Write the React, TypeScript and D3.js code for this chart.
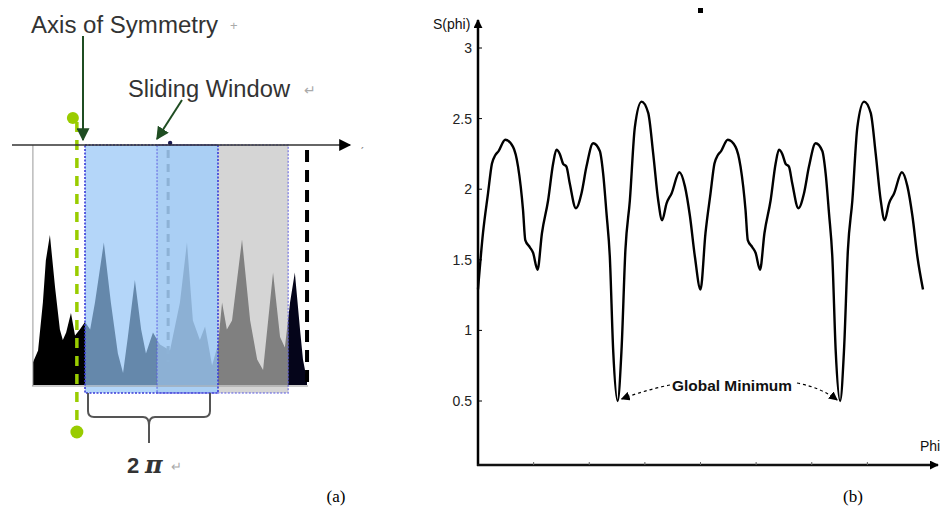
import React from 'react';
import * as d3 from 'd3';

// ---- (b) S(phi) curve (two identical periods) ----
const phi = [
  0, 0.09, 0.18, 0.25, 0.31, 0.37, 0.49, 0.63, 0.72, 0.81, 0.85, 0.93, 0.99, 1.07,
  1.15, 1.26, 1.35, 1.41, 1.47, 1.53, 1.59, 1.65, 1.76, 1.86, 1.95, 2.07, 2.19, 2.25,
  2.31, 2.37, 2.43, 2.51, 2.58, 2.65, 2.73, 2.82, 2.94, 3.06, 3.15, 3.24, 3.31, 3.39,
  3.48, 3.62, 3.72, 3.81, 3.9,
  4, 4.09, 4.18, 4.25, 4.31, 4.37, 4.49, 4.63, 4.72, 4.81, 4.85, 4.93, 4.99, 5.07,
  5.15, 5.26, 5.35, 5.41, 5.47, 5.53, 5.59, 5.65, 5.76, 5.86, 5.95, 6.07, 6.19, 6.25,
  6.31, 6.37, 6.43, 6.51, 6.58, 6.65, 6.73, 6.82, 6.94, 7.06, 7.15, 7.24, 7.31, 7.39,
  7.48, 7.62, 7.72, 7.81, 7.9, 8,
];
const sPhi = [
  1.29, 1.69, 1.97, 2.18, 2.24, 2.27, 2.35, 2.3, 2.16, 1.85, 1.64, 1.59, 1.55, 1.43,
  1.69, 1.92, 2.18, 2.28, 2.25, 2.18, 2.16, 2.04, 1.865, 1.97, 2.16, 2.325, 2.27, 2.11,
  1.83, 1.52, 0.86, 0.5, 0.86, 1.57, 1.92, 2.44, 2.62, 2.54, 2.25, 1.92, 1.78, 1.9,
  1.97, 2.12, 2.02, 1.81, 1.52,
  1.29, 1.69, 1.97, 2.18, 2.24, 2.27, 2.35, 2.3, 2.16, 1.85, 1.64, 1.59, 1.55, 1.43,
  1.69, 1.92, 2.18, 2.28, 2.25, 2.18, 2.16, 2.04, 1.865, 1.97, 2.16, 2.325, 2.27, 2.11,
  1.83, 1.52, 0.86, 0.5, 0.86, 1.57, 1.92, 2.44, 2.62, 2.54, 2.25, 1.92, 1.78, 1.9,
  1.97, 2.12, 2.02, 1.81, 1.52, 1.29,
];
const yTicks = [0.5, 1, 1.5, 2, 2.5, 3];
const xTicks = [1, 2, 3, 4, 5, 6, 7];
const globalMinPhi = [2.51, 6.51];

// ---- (a) angle histogram, degrees (0..360 is the 2π window) ----
const histAngle = [
  -141, -127, -114, -106, -95, -81, -68, -60, -51, -38, -27, -14, 0, 14, 27, 51, 70, 89,
  103, 116, 135, 152, 165, 184, 203, 230, 257, 276, 292, 311, 325, 344, 360, 371, 384,
  398, 425, 447, 466, 482, 509, 528, 541, 555, 568, 582, 590, 601,
];
const histValue = [
  0.15, 0.23, 0.55, 0.83, 1.0, 0.65, 0.37, 0.3, 0.35, 0.48, 0.33, 0.37, 0.42, 0.37, 0.55,
  0.95, 0.55, 0.21, 0.08, 0.32, 0.7, 0.37, 0.21, 0.35, 0.27, 0.23, 0.55, 0.95, 0.43, 0.3,
  0.39, 0.13, 0.27, 0.55, 0.37, 0.43, 0.97, 0.43, 0.17, 0.1, 0.75, 0.32, 0.25, 0.55, 0.75,
  0.37, 0.17, 0.03,
];
const symmetryAngle = -22;
const slidingCentre = 225;
const windowA = [0, 360];
const windowB = [195, 550];
const rightEdge = 601;

const App = () => {
  // (b)
  const x = d3.scaleLinear().domain([0, 8]).range([478, 923]);
  const y = d3.scaleLinear().domain([0, 3]).range([471.6, 48]);
  const pts = phi.map((p, i) => [p, sPhi[i]] as [number, number]);
  const line = d3
    .line<[number, number]>()
    .x((d) => x(d[0]))
    .y((d) => y(d[1]))
    .curve(d3.curveMonotoneX);
  const axisY = 465;

  // (a)
  const hx = d3.scaleLinear().domain([0, 360]).range([85, 218]);
  const hy = d3.scaleLinear().domain([0, 1]).range([385, 235]);
  const hist = histAngle.map((a, i) => [a, histValue[i]] as [number, number]);
  const area = d3
    .area<[number, number]>()
    .x((d) => hx(d[0]))
    .y0(hy(0))
    .y1((d) => hy(d[1]));
  const histPath = area(hist) || '';

  const bands = [
    { a: histAngle[0], b: windowA[0], bg: 'none', fg: '#000' },
    { a: windowA[0], b: windowB[0], bg: '#b4d6f9', fg: '#6588ab' },
    { a: windowB[0], b: windowA[1], bg: '#aacff4', fg: '#8cb0d4' },
    { a: windowA[1], b: windowB[1], bg: '#d5d5d5', fg: '#808080' },
    { a: windowB[1], b: rightEdge, bg: 'none', fg: '#05051a' },
  ];
  const top = 145;
  const bottom = 393;

  const sans = 'Arial, "Liberation Sans", sans-serif';
  const green = '#1f4d22';
  const braceL = hx(windowA[0]) + 3;
  const braceR = hx(windowA[1]) - 8;
  const braceM = (braceL + braceR) / 2;

  return (
    <svg
      width={942}
      height={510}
      style={{ position: 'absolute', left: 0, top: 0, background: '#fff' }}
      fontFamily={sans}
    >
      <defs>
        <marker id="ah" viewBox="0 0 10 10" refX="9" refY="5" markerWidth="9" markerHeight="9" orient="auto" markerUnits="userSpaceOnUse">
          <path d="M0,0 L10,5 L0,10 z" fill="#000" />
        </marker>
        <marker id="ahg" viewBox="0 0 10 10" refX="9" refY="5" markerWidth="13" markerHeight="13" orient="auto" markerUnits="userSpaceOnUse">
          <path d="M0,0 L10,5 L0,10 z" fill={green} />
        </marker>
        <marker id="ahb" viewBox="0 0 10 10" refX="9" refY="5" markerWidth="14" markerHeight="12" orient="auto" markerUnits="userSpaceOnUse">
          <path d="M0,0 L10,5 L0,10 z" fill="#000" />
        </marker>
        {bands.map((b, i) => (
          <clipPath id={`band${i}`} key={i}>
            <rect x={hx(b.a)} y={0} width={hx(b.b) - hx(b.a)} height={510} />
          </clipPath>
        ))}
      </defs>

      {/* ---------------- (a) ---------------- */}
      {bands.map((b, i) =>
        b.bg === 'none' ? null : (
          <rect key={`bg${i}`} x={hx(b.a)} y={top} width={hx(b.b) - hx(b.a)} height={bottom - top} fill={b.bg} />
        )
      )}
      {bands.map((b, i) => (
        <path key={`h${i}`} d={histPath} fill={b.fg} clipPath={`url(#band${i})`} />
      ))}
      {/* histogram frame */}
      <line x1={hx(histAngle[0])} x2={hx(histAngle[0])} y1={top} y2={hy(0) + 1} stroke="#999" strokeWidth={1} />
      <line x1={hx(histAngle[0]) - 1} x2={hx(rightEdge) + 1} y1={hy(0) + 1} y2={hy(0) + 1} stroke="#999" strokeWidth={1} />

      {/* window borders */}
      <rect x={hx(windowA[0])} y={top} width={hx(windowA[1]) - hx(windowA[0])} height={bottom - top}
        fill="none" stroke="#3a3ad8" strokeWidth={1.6} strokeDasharray="2,1.5" />
      <rect x={hx(windowB[0])} y={top} width={hx(windowB[1]) - hx(windowB[0])} height={bottom - top}
        fill="none" stroke="#5a5ae0" strokeWidth={1.4} strokeDasharray="2,1.5" strokeOpacity={0.7} />

      {/* sliding-window centre */}
      <line x1={hx(slidingCentre)} x2={hx(slidingCentre)} y1={150} y2={362} stroke="#8db2d6" strokeWidth={3} strokeDasharray="8,6" />
      <circle cx={hx(slidingCentre) + 2} cy={143} r={2.2} fill="#1a1a50" />

      {/* right dashed edge */}
      <line x1={hx(rightEdge)} x2={hx(rightEdge)} y1={150} y2={386} stroke="#000" strokeWidth={4} strokeDasharray="12,8" />

      {/* axis of symmetry */}
      <line x1={hx(symmetryAngle)} x2={hx(symmetryAngle)} y1={122} y2={428} stroke="#99cc00" strokeWidth={3.5} strokeDasharray="10,8" />
      <circle cx={hx(symmetryAngle) - 4} cy={118} r={6} fill="#99cc00" />
      <circle cx={hx(symmetryAngle)} cy={432} r={6.5} fill="#99cc00" />

      {/* top axis */}
      <line x1={12} x2={350} y1={top} y2={top} stroke="#333" strokeWidth={1.6} markerEnd="url(#ahb)" />
      <text x={360} y={146} fontSize={12} fill="#888">ˏ</text>

      {/* labels and pointers */}
      <text x={31} y={33} fontSize={23} fill="#333" textLength={187} lengthAdjust="spacingAndGlyphs">Axis of Symmetry</text>
      <text x={230} y={30} fontSize={13} fill="#aaa">+</text>
      <line x1={83} x2={83} y1={36} y2={140} stroke={green} strokeWidth={2} markerEnd="url(#ahg)" />
      <text x={128} y={97} fontSize={23} fill="#333" textLength={162} lengthAdjust="spacingAndGlyphs">Sliding Window</text>
      <text x={304} y={95} fontSize={14} fill="#aaa">↵</text>
      <line x1={182} x2={157} y1={100} y2={139} stroke={green} strokeWidth={2} markerEnd="url(#ahg)" />

      {/* brace for 2π */}
      <path
        d={`M${braceL},${bottom} L${braceL},${bottom + 18} Q${braceL},${bottom + 24} ${braceL + 6},${bottom + 24}
            L${braceM - 6},${bottom + 24} Q${braceM},${bottom + 24} ${braceM},${bottom + 32} L${braceM},${bottom + 50}
            M${braceM},${bottom + 32} Q${braceM},${bottom + 24} ${braceM + 6},${bottom + 24}
            L${braceR - 6},${bottom + 24} Q${braceR},${bottom + 24} ${braceR},${bottom + 18} L${braceR},${bottom}`}
        fill="none" stroke="#555" strokeWidth={2}
      />
      <text x={127} y={473} fontSize={22} fontWeight="bold" fill="#333">2</text>
      <text x={145} y={473} fontSize={24} fontStyle="italic" fontWeight="bold" fill="#333" fontFamily="'DejaVu Serif', serif">π</text>
      <text x={171} y={471} fontSize={13} fill="#aaa">↵</text>

      {/* ---------------- (b) ---------------- */}
      <rect x={698} y={8} width={5} height={5} fill="#000" />
      <line x1={x(0)} x2={x(0)} y1={axisY + 1} y2={20} stroke="#000" strokeWidth={2.5} markerEnd="url(#ah)" />
      <line x1={x(0) - 1} x2={938} y1={axisY} y2={axisY} stroke="#111" strokeWidth={2.5} markerEnd="url(#ah)" />
      {yTicks.map((t) => (
        <g key={`yt${t}`}>
          <line x1={x(0)} x2={x(0) + 4} y1={y(t)} y2={y(t)} stroke="#000" strokeWidth={1} />
          <text x={472} y={y(t) + 5} fontSize={14} textAnchor="end" fill="#222">{t}</text>
        </g>
      ))}
      {xTicks.map((t) => (
        <line key={`xt${t}`} x1={x(t)} x2={x(t)} y1={axisY - 3} y2={axisY} stroke="#666" strokeWidth={1} />
      ))}
      <text x={433} y={29} fontSize={14} fill="#111">S(phi)</text>
      <text x={920} y={451} fontSize={14} fill="#111">Phi</text>

      <path d={line(pts) || ''} fill="none" stroke="#000" strokeWidth={2.4} strokeLinejoin="round" />

      <text x={732} y={391} fontSize={15} fontWeight="bold" textAnchor="middle" fill="#111" textLength={120} lengthAdjust="spacingAndGlyphs">
        Global Minimum
      </text>
      <path
        d={`M670,385 Q645,390 ${x(globalMinPhi[0]) + 4},${y(0.5) - 2}`}
        fill="none" stroke="#000" strokeWidth={1.2} strokeDasharray="3,3" markerEnd="url(#ah)"
      />
      <path
        d={`M797,383 Q822,388 ${x(globalMinPhi[1]) - 3},${y(0.5) - 1}`}
        fill="none" stroke="#000" strokeWidth={1.2} strokeDasharray="3,3" markerEnd="url(#ah)"
      />

      <text x={336} y={502} fontSize={17} textAnchor="middle" fontFamily="'Liberation Serif', 'Times New Roman', serif">(a)</text>
      <text x={853} y={502} fontSize={17} textAnchor="middle" fontFamily="'Liberation Serif', 'Times New Roman', serif">(b)</text>
    </svg>
  );
};

export default App;
